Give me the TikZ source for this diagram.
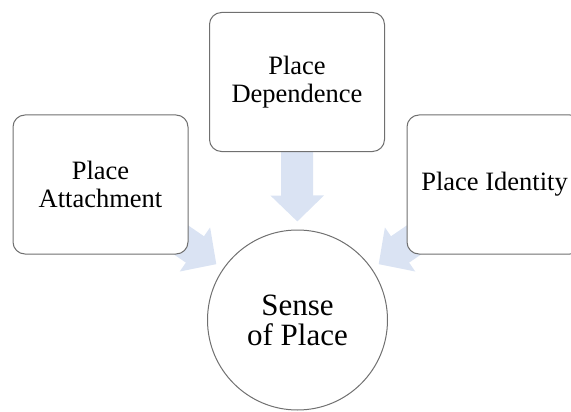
\documentclass[tikz,border=0pt]{standalone}
\usepackage{fontspec}
\setmainfont{Liberation Serif}
\usetikzlibrary{arrows.meta,backgrounds}
\definecolor{arrowblue}{RGB}{218,227,243}
\definecolor{linegray}{RGB}{112,112,112}

\begin{document}
\begin{tikzpicture}[x=1pt,y=-1pt,
    box node/.style={rectangle,rounded corners=12pt,draw=linegray,line width=1pt,fill=white,minimum width=175pt,minimum height=139pt,align=center,font=\fontsize{26.5}{28}\selectfont},
    main node/.style={circle,draw=linegray,line width=1pt,fill=white,minimum size=180pt,inner sep=0pt,align=center,font=\fontsize{31}{30}\selectfont},
    big arrow/.style={draw=arrowblue,line width=32pt,-{Triangle[width=52pt,length=26pt]},shorten >=8pt}]
        \useasboundingbox (0,0) rectangle (571,412);
        \clip (0,0) rectangle (571,412);
        		%nodes
        			  \node[box node] (1) at (100.5,184.5) {Place\\Attachment};
        			  \node[box node] (2) at (297,82) {Place\\Dependence};
        			  \node[box node] (3) at (494.5,184.5) {Place Identity};
        			  \node[main node] (4) at (297.5,320) {Sense\\of Place};
        		%Edges
        		\begin{scope}[on background layer]
        			  \draw[big arrow] (1.center) -- (4);
        			  \draw[big arrow] (2.center) -- (4);
        			  \draw[big arrow] (3.center) -- (4);
        		\end{scope}
        \end{tikzpicture}
\end{document}
